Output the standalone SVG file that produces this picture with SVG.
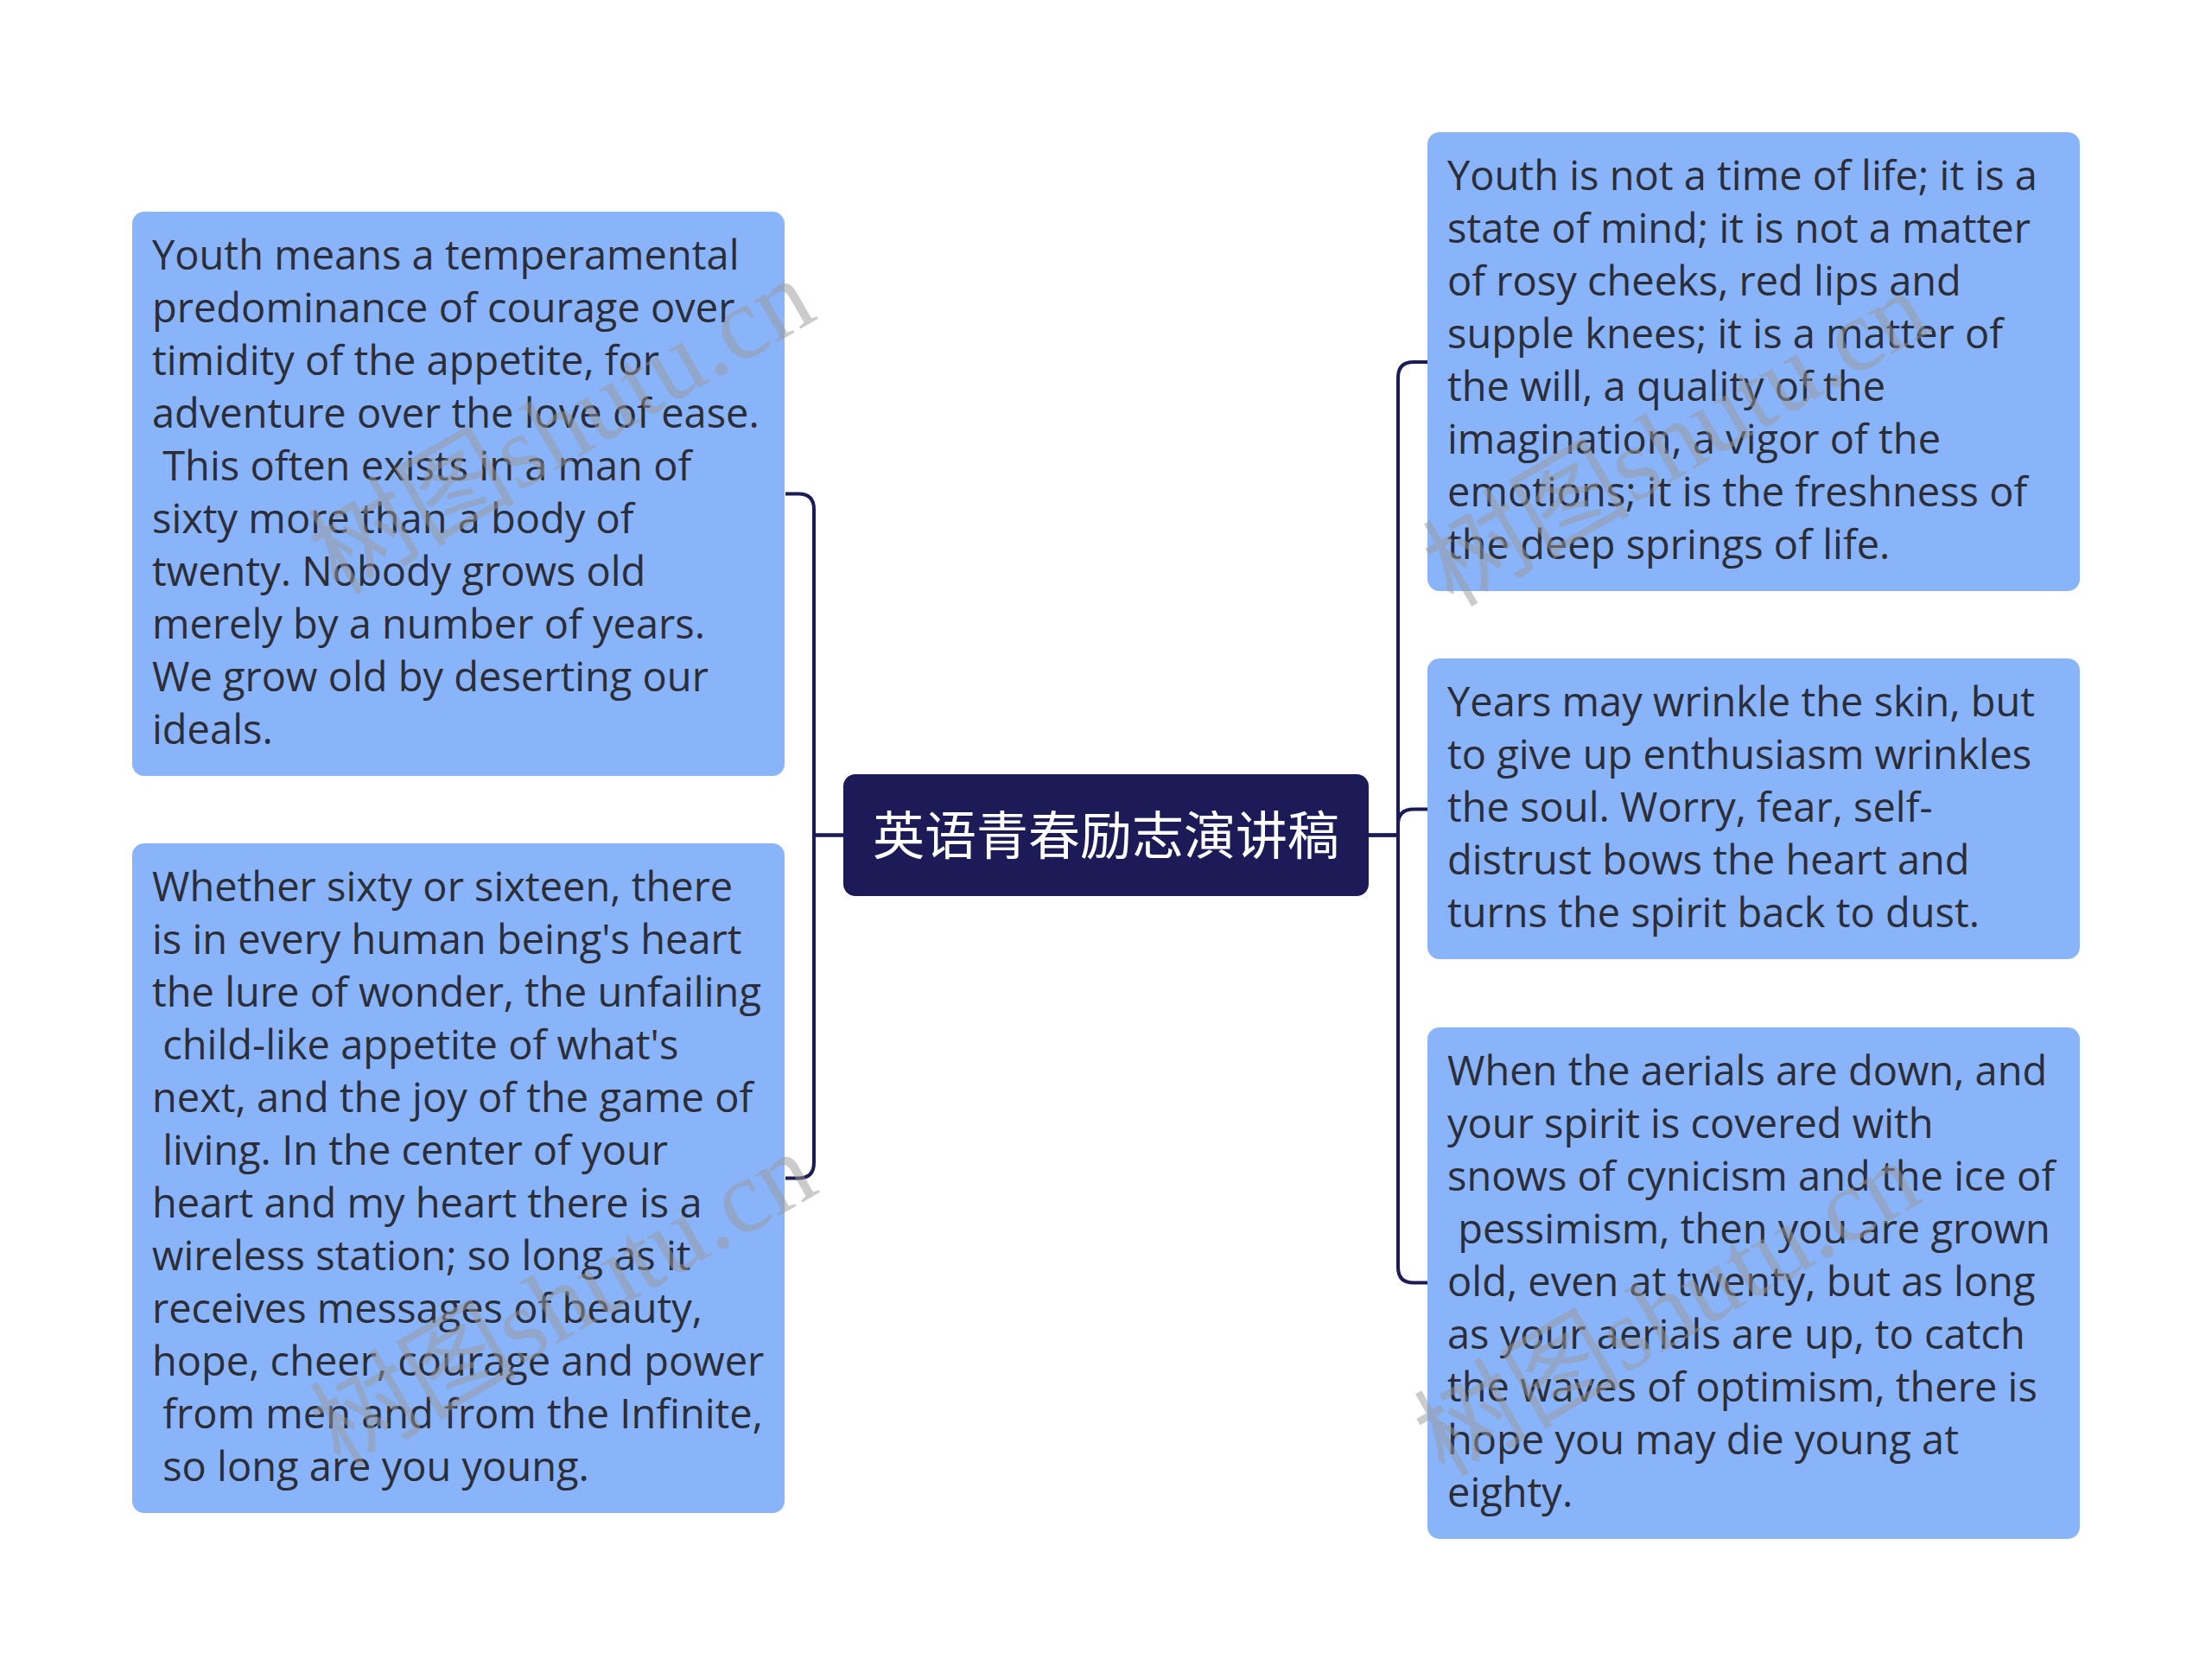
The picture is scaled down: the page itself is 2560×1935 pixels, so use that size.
<svg xmlns="http://www.w3.org/2000/svg" width="2560" height="1935" viewBox="0 0 2560 1935">
<style>
.node{fill:#89b4fa;}
.t{font-family:"Open Sans","Noto Sans","Noto Sans CJK SC",sans-serif;font-size:47px;fill:#2b2d38;}
.root{fill:#1d1b57;}
.rt{font-family:"Noto Sans CJK SC","Noto Sans",sans-serif;font-size:60px;fill:#ffffff;}
.conn{fill:none;stroke:#1d1b57;stroke-width:4;}
.wm{font-family:"Liberation Serif","Noto Sans CJK SC",serif;font-size:120px;fill:#999999;opacity:0.5;}
</style>
<rect width="2560" height="1935" fill="#ffffff"/>
<g id="connectors">
<path class="conn" d="M976,966.5 H942 V589.5 Q942,571.5 924,571.5 H909"/>
<path class="conn" d="M976,966.5 H942 V1345.5 Q942,1363.5 924,1363.5 H909"/>
<path class="conn" d="M1584,966.5 H1618 V437 Q1618,419 1636,419 H1652"/>
<path class="conn" d="M1584,966.5 H1618 V954.5 Q1618,936.5 1636,936.5 H1652"/>
<path class="conn" d="M1584,966.5 H1618 V1466.5 Q1618,1484.5 1636,1484.5 H1652"/>
</g>
<g id="root">
<rect class="root" x="976" y="896" width="608" height="141" rx="14"/>
<text class="rt" x="1280" y="989" text-anchor="middle">英语青春励志演讲稿</text>
</g>
<g id="node-l1">
<rect class="node" x="153" y="245" width="755" height="653" rx="14"/>
<text class="t" xml:space="preserve"><tspan x="176" y="312">Youth means a temperamental</tspan><tspan x="176" y="373">predominance of courage over</tspan><tspan x="176" y="434">timidity of the appetite, for</tspan><tspan x="176" y="495">adventure over the love of ease.</tspan><tspan x="176" y="556"> This often exists in a man of</tspan><tspan x="176" y="617">sixty more than a body of</tspan><tspan x="176" y="678">twenty. Nobody grows old</tspan><tspan x="176" y="739">merely by a number of years.</tspan><tspan x="176" y="800">We grow old by deserting our</tspan><tspan x="176" y="861">ideals.</tspan></text>
</g>
<g id="node-l2">
<rect class="node" x="153" y="976" width="755" height="775" rx="14"/>
<text class="t" xml:space="preserve"><tspan x="176" y="1043">Whether sixty or sixteen, there</tspan><tspan x="176" y="1104">is in every human being's heart</tspan><tspan x="176" y="1165">the lure of wonder, the unfailing</tspan><tspan x="176" y="1226"> child-like appetite of what's</tspan><tspan x="176" y="1287">next, and the joy of the game of</tspan><tspan x="176" y="1348"> living. In the center of your</tspan><tspan x="176" y="1409">heart and my heart there is a</tspan><tspan x="176" y="1470">wireless station; so long as it</tspan><tspan x="176" y="1531">receives messages of beauty,</tspan><tspan x="176" y="1592">hope, cheer, courage and power</tspan><tspan x="176" y="1653"> from men and from the Infinite,</tspan><tspan x="176" y="1714"> so long are you young.</tspan></text>
</g>
<g id="node-r1">
<rect class="node" x="1652" y="153" width="755" height="531" rx="14"/>
<text class="t" xml:space="preserve"><tspan x="1675" y="220">Youth is not a time of life; it is a</tspan><tspan x="1675" y="281">state of mind; it is not a matter</tspan><tspan x="1675" y="342">of rosy cheeks, red lips and</tspan><tspan x="1675" y="403">supple knees; it is a matter of</tspan><tspan x="1675" y="464">the will, a quality of the</tspan><tspan x="1675" y="525">imagination, a vigor of the</tspan><tspan x="1675" y="586">emotions; it is the freshness of</tspan><tspan x="1675" y="647">the deep springs of life.</tspan></text>
</g>
<g id="node-r2">
<rect class="node" x="1652" y="762" width="755" height="348" rx="14"/>
<text class="t" xml:space="preserve"><tspan x="1675" y="829">Years may wrinkle the skin, but</tspan><tspan x="1675" y="890">to give up enthusiasm wrinkles</tspan><tspan x="1675" y="951">the soul. Worry, fear, self-</tspan><tspan x="1675" y="1012">distrust bows the heart and</tspan><tspan x="1675" y="1073">turns the spirit back to dust.</tspan></text>
</g>
<g id="node-r3">
<rect class="node" x="1652" y="1189" width="755" height="592" rx="14"/>
<text class="t" xml:space="preserve"><tspan x="1675" y="1256">When the aerials are down, and</tspan><tspan x="1675" y="1317">your spirit is covered with</tspan><tspan x="1675" y="1378">snows of cynicism and the ice of</tspan><tspan x="1675" y="1439"> pessimism, then you are grown</tspan><tspan x="1675" y="1500">old, even at twenty, but as long</tspan><tspan x="1675" y="1561">as your aerials are up, to catch</tspan><tspan x="1675" y="1622">the waves of optimism, there is</tspan><tspan x="1675" y="1683">hope you may die young at</tspan><tspan x="1675" y="1744">eighty.</tspan></text>
</g>
<g id="watermarks">
<text class="wm" text-anchor="middle" transform="translate(650,494) rotate(-30)" y="40">树图shutu.cn</text>
<text class="wm" text-anchor="middle" transform="translate(652,1505) rotate(-30)" y="40">树图shutu.cn</text>
<text class="wm" text-anchor="middle" transform="translate(1940,508) rotate(-30)" y="40">树图shutu.cn</text>
<text class="wm" text-anchor="middle" transform="translate(1930,1515) rotate(-30)" y="40">树图shutu.cn</text>
</g>
</svg>
